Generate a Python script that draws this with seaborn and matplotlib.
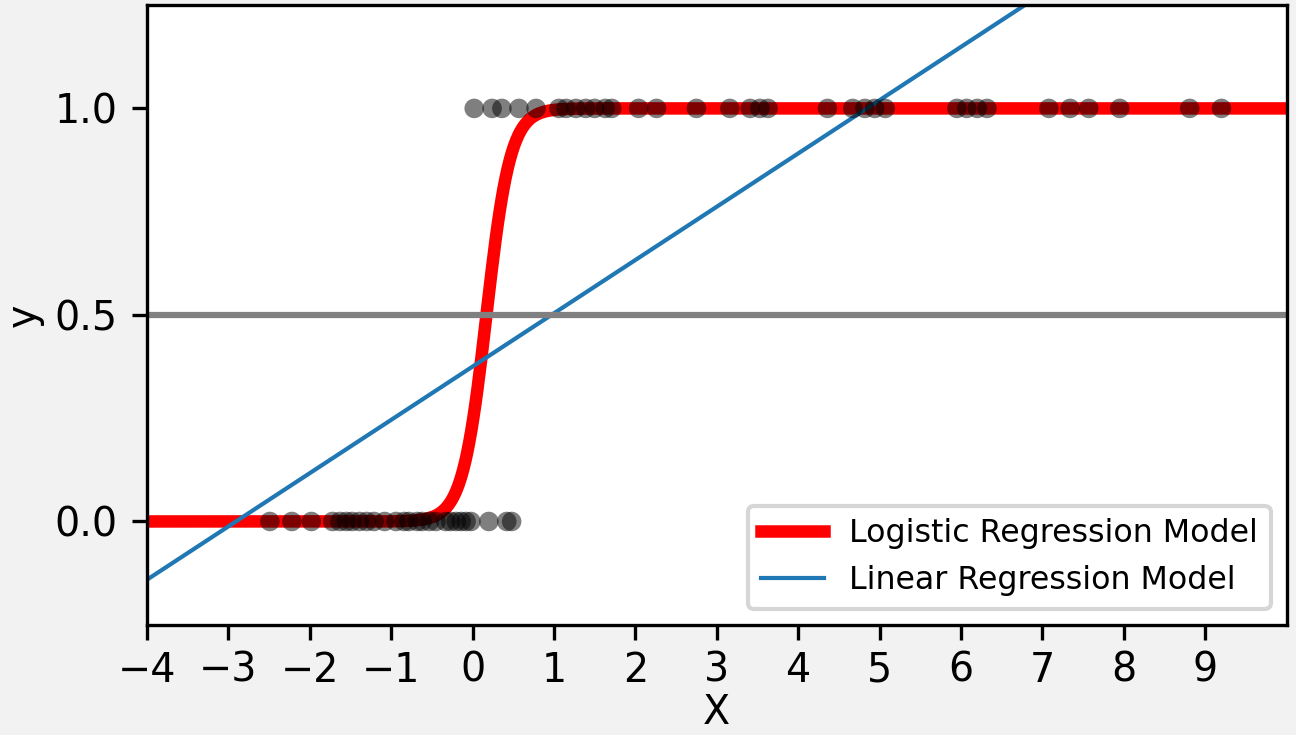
import numpy as np
import matplotlib
matplotlib.use("Agg")
import matplotlib.pyplot as plt
import seaborn as sns

# pontos com y = 0
x_zero = [-2.49, -2.22, -1.98, -1.72, -1.63, -1.55, -1.48, -1.39, -1.30, -1.21,
          -1.08, -0.94, -0.84, -0.78, -0.68, -0.62, -0.53, -0.45, -0.33, -0.27,
          -0.20, -0.14, -0.08, -0.02, 0.20, 0.42, 0.48]
# pontos com y = 1
x_um = [0.02, 0.24, 0.36, 0.57, 0.78, 1.06, 1.15, 1.27, 1.39, 1.50, 1.63, 1.71,
        2.04, 2.26, 2.75, 3.16, 3.41, 3.53, 3.63, 4.36, 4.67, 4.82, 4.94, 5.07,
        5.95, 6.07, 6.20, 6.32, 7.08, 7.34, 7.57, 7.95, 8.81, 9.20]

# parametros dos modelos
log_coef, log_intercept = 6.8, -1.16
lin_coef, lin_intercept = 0.129, 0.375

X = np.array(x_zero + x_um)
y = np.array([0.0] * len(x_zero) + [1.0] * len(x_um))

X_test = np.linspace(-5, 10, 600)
loss = 1 / (1 + np.exp(-(log_coef * X_test + log_intercept)))
lin = lin_coef * X_test + lin_intercept

fig = plt.figure(figsize=(4.3233, 2.45), dpi=300, facecolor='#f2f2f2')
ax = fig.add_axes([0.1133, 0.150, 0.8787, 0.843])

sns.scatterplot(x=X, y=y, color='black', alpha=0.5, s=22, edgecolor='none',
                zorder=20, ax=ax)
sns.lineplot(x=X_test, y=loss, color='red', linewidth=3,
             label='Logistic Regression Model', ax=ax, sort=False)
sns.lineplot(x=X_test, y=lin, color='C0', linewidth=1,
             label='Linear Regression Model', ax=ax, sort=False)
ax.axhline(0.5, color='.5')

ax.set_xlabel('X', fontsize=9.5, labelpad=0.5)
ax.set_ylabel('y', fontsize=9.5, labelpad=2.5)
ax.set_xticks(range(-4, 10))
ax.set_yticks([0, 0.5, 1])
ax.tick_params(labelsize=9.5)
ax.tick_params(axis='x', pad=2.8)
ax.set_xlim(-4, 10)
ax.set_ylim(-0.25, 1.25)
ax.legend(loc='lower right', fontsize=7.6)

plt.savefig('out.png', dpi=300, facecolor=fig.get_facecolor())
